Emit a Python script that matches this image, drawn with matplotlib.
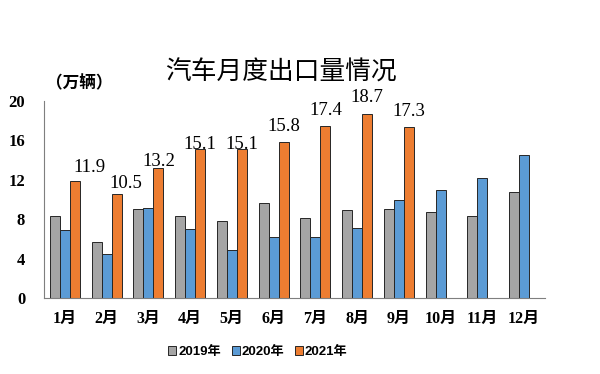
import numpy as np
import matplotlib
matplotlib.use("Agg")
import matplotlib.pyplot as plt

plt.rcParams['font.family'] = ['Liberation Serif', 'Noto Sans CJK SC', 'DejaVu Sans']

months = ['1月', '2月', '3月', '4月', '5月', '6月', '7月', '8月', '9月', '10月', '11月', '12月']
y2019 = [8.3, 5.7, 9.0, 8.3, 7.8, 9.6, 8.1, 8.9, 9.0, 8.7, 8.3, 10.7]
y2020 = [6.9, 4.5, 9.1, 7.0, 4.9, 6.2, 6.2, 7.1, 9.9, 10.9, 12.2, 14.5]
y2021 = [11.9, 10.5, 13.2, 15.1, 15.1, 15.8, 17.4, 18.7, 17.3, np.nan, np.nan, np.nan]
series_names = ['2019年', '2020年', '2021年']

# label offsets in pixels (dx, dy) -- hand placed like the original
label_off = [(15, 9), (9, 6), (0, 2), (0, 0), (0, 0), (0, 11), (0, 11), (0, 12), (0, 11)]

colors = ['#A5A5A5', '#5B9BD5', '#ED7D31']

fig = plt.figure(figsize=(6, 3.74), dpi=100)
ax = fig.add_axes([0.0733, 0.2032, 0.835, 0.5275])

x = np.arange(len(months))
w = 0.24
for i, (vals, c, name) in enumerate(zip([y2019, y2020, y2021], colors, series_names)):
    ax.bar(x + (i - 1) * w, vals, w, color=c, edgecolor='#262626', linewidth=0.7, label=name)

for i, v in enumerate(y2021):
    if np.isnan(v):
        continue
    dx, dy = label_off[i]
    ax.annotate(f'{v:.1f}', (x[i] + w, v), xytext=(dx, dy), textcoords='offset pixels',
                ha='center', va='baseline', fontsize=13.5, family='Liberation Serif')

ax.set_xlim(-0.5, 11.5)
ax.set_ylim(0, 20)
ax.set_yticks(np.arange(0, 21, 4))
ax.set_xticks(x)
ax.set_xticklabels(months, fontsize=11.5, fontweight='bold')
for t in ax.get_yticklabels():
    t.set_fontweight('bold')
    t.set_fontsize(12)
ax.tick_params(axis='y', length=0, pad=13.5)
ax.tick_params(axis='x', length=0, pad=9)
ax.spines['top'].set_visible(False)
ax.spines['right'].set_visible(False)
ax.spines['left'].set_color('#7f7f7f')
ax.spines['bottom'].set_color('#7f7f7f')

fig.text(0.469, 0.807, '汽车月度出口量情况', ha='center', va='center', fontsize=18.5,
         fontweight='medium', family=['Noto Sans CJK SC'])
fig.text(0.076, 0.778, '（万辆）', ha='left', va='center', fontsize=12,
         fontweight='bold', family=['Noto Sans CJK SC'])

leg = fig.legend(loc='center', bbox_to_anchor=(0.43, 0.058), ncol=3, frameon=False,
                 handlelength=0.6, handleheight=0.6, handletextpad=0.15, columnspacing=0.8,
                 prop={'family': ['Liberation Sans', 'Noto Sans CJK SC'], 'weight': 'bold', 'size': 9.5})

fig.savefig('out.png', dpi=100)
